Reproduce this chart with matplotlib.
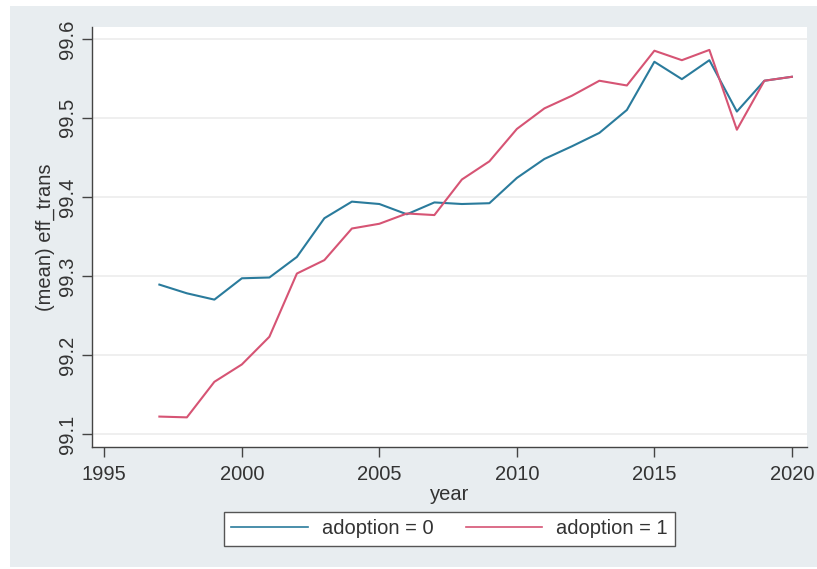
import matplotlib
matplotlib.use("Agg")
import matplotlib.pyplot as plt
from matplotlib.patches import Rectangle

plt.rcParams['font.family'] = ['Liberation Sans', 'DejaVu Sans']

years = list(range(1997, 2021))
adoption0 = [99.289, 99.278, 99.270, 99.297, 99.298, 99.324, 99.373, 99.394,
             99.391, 99.378, 99.393, 99.391, 99.392, 99.424, 99.448, 99.464,
             99.481, 99.510, 99.571, 99.549, 99.573, 99.508, 99.547, 99.552]
adoption1 = [99.122, 99.121, 99.166, 99.188, 99.223, 99.303, 99.320, 99.360,
             99.366, 99.379, 99.377, 99.422, 99.445, 99.486, 99.512, 99.528,
             99.547, 99.541, 99.585, 99.573, 99.586, 99.485, 99.547, 99.552]
xticks = [1995, 2000, 2005, 2010, 2015, 2020]
yticks = [99.1, 99.2, 99.3, 99.4, 99.5, 99.6]
series_labels = ['adoption = 0', 'adoption = 1']

W, H = 817, 569
fig = plt.figure(figsize=(W / 100, H / 100), dpi=100, facecolor='white')
bg = Rectangle((10 / W, 2 / H), (W - 10) / W, (567 - 6) / H,
               transform=fig.transFigure, facecolor='#e8edf0',
               edgecolor='none', zorder=-10)
fig.patches.append(bg)

ax = fig.add_axes([92 / W, 1 - 447 / H, (807 - 92) / W, (447 - 27) / H])
ax.set_facecolor('white')

blue = '#2a7b9c'
red = '#d65474'
ax.plot(years, adoption0, color=blue, lw=1.5, label=series_labels[0], zorder=3)
ax.plot(years, adoption1, color=red, lw=1.5, label=series_labels[1], zorder=3)

ax.set_xlim(1994.55, 2020.55)
ax.set_ylim(99.0835, 99.615)
ax.set_xticks(xticks)
ax.set_yticks(yticks)
ax.set_yticklabels([f"{v:.1f}" for v in yticks], rotation=90, va='center')
ax.grid(axis='y', color='#ececec', lw=1.2)
ax.set_axisbelow(True)

for s in ['top', 'right']:
    ax.spines[s].set_visible(False)
for s in ['left', 'bottom']:
    ax.spines[s].set_color('#444444')
    ax.spines[s].set_linewidth(1.0)

ax.tick_params(axis='both', length=7, width=1, color='#444444',
               labelsize=14.5, labelcolor='#333333')
ax.tick_params(axis='x', pad=6)
ax.tick_params(axis='y', pad=4)

ax.set_xlabel('year', fontsize=14.5, color='#333333', labelpad=1)
ax.set_ylabel('(mean) eff_trans', fontsize=14.5, color='#333333', labelpad=2)

leg = fig.legend(loc='center', bbox_to_anchor=(449.5 / W, 1 - 529 / H), ncol=2,
                 fontsize=14.5, frameon=True, fancybox=False, edgecolor='#555555',
                 facecolor='white', handlelength=3.8, handletextpad=0.7,
                 columnspacing=1.6, borderpad=0.35, borderaxespad=0)
leg.get_frame().set_linewidth(1.0)
leg.get_frame().set_alpha(1)
for t in leg.get_texts():
    t.set_color('#333333')
for l in leg.get_lines():
    l.set_linewidth(1.2)

fig.savefig('out.png', dpi=100, facecolor=fig.get_facecolor())
